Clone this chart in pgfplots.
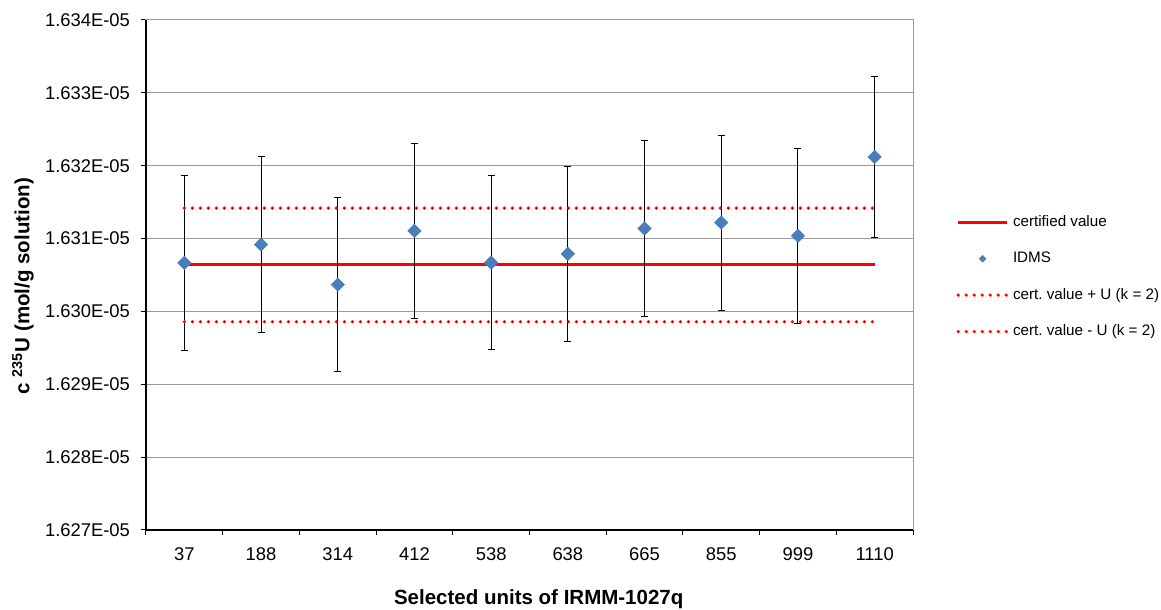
\documentclass[border=0pt]{standalone}
\usepackage{fontspec}
\setmainfont{Liberation Sans}
\usepackage{pgfplots}
\pgfplotsset{compat=1.18}
\definecolor{idms}{RGB}{74,126,187}
\definecolor{xlred}{RGB}{255,0,0}
\definecolor{gridgray}{RGB}{155,155,155}
\frenchspacing
\begin{document}
\begin{tikzpicture}
\begin{axis}[
  name=ax, scale only axis, width=383.5pt, height=255pt,
  xmin=-0.5, xmax=9.5, ymin=1627, ymax=1634,
  xtick={0,...,9},
  xticklabels={37,188,314,412,538,638,665,855,999,1110},
  major x tick style={draw=none},
  minor xtick={-0.5,0.5,...,9.5},
  ytick={1627,1628,1629,1630,1631,1632,1633,1634},
  yticklabels={1.627E-05,1.628E-05,1.629E-05,1.630E-05,1.631E-05,1.632E-05,1.633E-05,1.634E-05},
  tick align=outside, tick pos=left,
  major tick length=2.5pt, minor tick length=2.5pt,
  ymajorgrids, grid style={gridgray, line width=0.5pt},
  axis line style={gridgray, line width=0.5pt},
  tick style={black, line width=0.5pt},
  ticklabel style={font=\fontsize{9.2}{11}\selectfont},
  xticklabel style={yshift=-3pt},
  yticklabel style={xshift=-2pt},
  xlabel={\textbf{Selected units of IRMM-1027q}},
  ylabel={\textbf{c \textsuperscript{235}U (mol/g solution)}},
  xlabel style={at={(axis description cs:0.512,0)}, anchor=center, yshift=-34.5pt, font=\fontsize{10.25}{12}\selectfont},
  ylabel style={at={(axis description cs:-0.1604,0.478)}, anchor=center, font=\fontsize{10.25}{12}\selectfont},
  legend style={at={(axis description cs:1,0.496)}, anchor=west, xshift=21.5pt,
    draw=none, fill=none, font=\fontsize{7.6}{9}\selectfont, row sep=7.25pt,
    inner sep=0pt},
  legend cell align=left,
  legend image code/.code={\draw[#1] (0pt,0pt) -- (24.5pt,0pt);},
]
\addplot[xlred, line width=1.6pt, no marks] coordinates {(0,1630.642) (9,1630.642)};
\addlegendentry{certified value}
\addplot[only marks, mark=square*, mark size=2.3pt,
  mark options={rotate=45, fill=idms, draw=idms},
  legend image code/.code={\fill[idms] (12.25pt,1.6pt) -- (13.85pt,0pt) -- (12.25pt,-1.6pt) -- (10.65pt,0pt) -- cycle;},
  error bars/.cd, y dir=both, y explicit,
  error bar style={black, line width=0.5pt},
  error mark options={black, mark size=1.75pt, line width=0.5pt, rotate=90}]
  table[x=x, y=y, y error=e] {
x y e
0 1630.666 1.203
1 1630.918 1.206
2 1630.367 1.197
3 1631.106 1.201
4 1630.670 1.196
5 1630.790 1.198
6 1631.138 1.202
7 1631.220 1.201
8 1631.037 1.201
9 1632.120 1.100
};
\addlegendentry{IDMS}
\addplot[xlred, line width=1.8pt, line cap=round, dash pattern=on 0pt off 4pt, no marks] coordinates {(0,1631.418) (9,1631.418)};
\addlegendentry{cert. value + U (k = 2)}
\addplot[xlred, line width=1.8pt, line cap=round, dash pattern=on 0pt off 4pt, no marks] coordinates {(0,1629.858) (9,1629.858)};
\addlegendentry{cert. value - U (k = 2)}
\end{axis}
\draw[black, line width=0.6pt] (ax.north west) -- (ax.south west) -- (ax.south east);
\pgfresetboundingbox
\path[use as bounding box] ([shift={(-73pt,-40pt)}]ax.south west) rectangle ([shift={(124pt,10pt)}]ax.north east);
\end{tikzpicture}
\end{document}
